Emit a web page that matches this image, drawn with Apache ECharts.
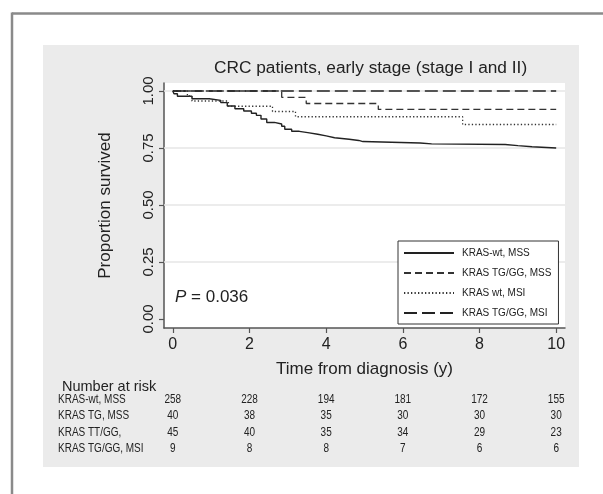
<!DOCTYPE html>
<html>
<head>
<meta charset="utf-8">
<script src="https://cdn.jsdelivr.net/npm/echarts@6/dist/echarts.min.js"></script>
<style>
html,body{margin:0;padding:0;background:#fff;}
#c{width:603px;height:494px;}
</style>
</head>
<body>
<div id="c"></div>
<script>
// ---- data ----
const seriesNames = ['KRAS-wt, MSS', 'KRAS TG/GG, MSS', 'KRAS wt, MSI', 'KRAS TG/GG, MSI'];

const wtMssTimes = [0, 0.03, 0.12, 0.5, 0.95, 1.25, 1.42, 1.62, 1.85, 2.05, 2.18, 2.3, 2.45, 2.65, 2.84, 2.92, 3.1, 3.3, 3.52, 3.78, 4.0, 4.22, 4.6, 4.85, 4.96, 6.45, 6.75, 8.67, 9.0, 9.37, 10];
const wtMssSurv  = [1.0, 0.988, 0.977, 0.966, 0.959, 0.949, 0.934, 0.922, 0.912, 0.902, 0.893, 0.877, 0.862, 0.855, 0.845, 0.832, 0.823, 0.817, 0.810, 0.803, 0.795, 0.788, 0.783, 0.778, 0.772, 0.768, 0.765, 0.760, 0.755, 0.750, 0.750];

const tgMssTimes = [0, 2.84, 3.48, 5.36, 10];
const tgMssSurv  = [1.0, 0.972, 0.945, 0.919, 0.919];

const wtMsiTimes = [0, 0.38, 0.5, 1.45, 2.6, 3.2, 7.56, 10];
const wtMsiSurv  = [1.0, 0.978, 0.956, 0.933, 0.910, 0.887, 0.853, 0.853];

const tgMsiTimes = [0, 10];
const tgMsiSurv  = [1.0, 1.0];

const xTicks = [0, 2, 4, 6, 8, 10];
const yTicks = [0, 0.25, 0.5, 0.75, 1.0];
const gridValues = [0.25, 0.5, 0.75, 1.0];

const riskRows = ['KRAS-wt, MSS', 'KRAS TG, MSS', 'KRAS TT/GG,', 'KRAS TG/GG, MSI'];
const riskTimes = [0, 2, 4, 6, 8, 10];
const riskWtMss = [258, 228, 194, 181, 172, 155];
const riskTgMss = [40, 38, 35, 30, 30, 30];
const riskTtGg  = [45, 40, 35, 34, 29, 23];
const riskTgMsi = [9, 8, 8, 7, 6, 6];

const titleText = 'CRC patients, early stage (stage I and II)';
const pText = '0.036';

// ---- build ----
function pairs(ts, vs){ return ts.map((t,i)=>[t, vs[i]]); }
const riskVals = [riskWtMss, riskTgMss, riskTtGg, riskTgMsi];

const F = '"Liberation Sans", Arial, Helvetica, sans-serif';

const chart = echarts.init(document.getElementById('c'), null, {renderer: 'canvas'});

const curve = (name, ts, vs, type, color, width) => ({
  name, type: 'line', step: 'end', xAxisIndex: 0, yAxisIndex: 0,
  data: pairs(ts, vs), symbol: 'none', showSymbol: false, z: 6,
  lineStyle: {color, width, type}, itemStyle: {color}, animation: false
});

const baseGraphic = [
  {type: 'rect', shape: {x: 43, y: 45, width: 536, height: 422}, style: {fill: '#ebebeb'}, z: -10, silent: true},
  {type: 'line', shape: {x1: 12, y1: 13.5, x2: 603, y2: 13.5}, style: {stroke: '#8a8a8a', lineWidth: 2.5}, z: -10},
  {type: 'line', shape: {x1: 12, y1: 12.5, x2: 12, y2: 494}, style: {stroke: '#8a8a8a', lineWidth: 2.5}, z: -10},
  {type: 'text', left: 214, top: 60, style: {text: titleText, font: '17.3px ' + F, fill: '#222'}},
  {type: 'text', left: 175, top: 289, style: {text: '{p|P} = ' + pText, font: '17px ' + F, fill: '#222',
    rich: {p: {fontStyle: 'italic', fontSize: 17, fontFamily: F, fill: '#222'}}}},
  {type: 'text', left: 62, top: 379, style: {text: 'Number at risk', font: '14.5px ' + F, fill: '#222'}}
];

chart.setOption({
  animation: false,
  backgroundColor: '#fff',
  graphic: baseGraphic,
  grid: [
    {left: 164, right: 38, top: 83, bottom: 166, show: true, backgroundColor: '#fff', borderWidth: 0},
    {left: 164, right: 38, top: 391, height: 65, show: false}
  ],
  legend: {
    data: seriesNames, orient: 'vertical', left: 398, top: 241,
    padding: [7, 7, 6, 5], itemGap: 10, itemWidth: 50, itemHeight: 11,
    borderColor: '#333', borderWidth: 1, backgroundColor: '#fff',
    itemStyle: {opacity: 0},
    textStyle: {fontSize: 10, fontFamily: F, color: '#222', padding: [0, 0, 0, 3]},
    selectedMode: false
  },
  xAxis: [
    {type: 'value', gridIndex: 0, min: -0.23, max: 10.23,
     name: 'Time from diagnosis (y)', nameLocation: 'middle', nameGap: 33,
     nameTextStyle: {fontSize: 17, fontFamily: F, color: '#222'},
     axisLine: {show: true, onZero: false, lineStyle: {color: '#555', width: 1.5}},
     axisTick: {show: true, customValues: xTicks, length: 5, lineStyle: {color: '#555', width: 1.2}},
     axisLabel: {customValues: xTicks, fontSize: 16, fontFamily: F, color: '#222', margin: 9},
     splitLine: {show: false}},
    {type: 'value', gridIndex: 1, min: -0.23, max: 10.23, show: false}
  ],
  yAxis: [
    {type: 'value', gridIndex: 0, min: -0.04, max: 1.035,
     name: 'Proportion survived', nameLocation: 'middle', nameGap: 50,
     nameTextStyle: {fontSize: 17, fontFamily: F, color: '#222'},
     axisLine: {show: true, onZero: false, lineStyle: {color: '#555', width: 1.5}},
     axisTick: {show: true, customValues: yTicks, length: 5, lineStyle: {color: '#555', width: 1.2}},
     axisLabel: {customValues: yTicks, rotate: 90, fontSize: 15, fontFamily: F, color: '#222', margin: 8,
       formatter: v => v.toFixed(2)},
     splitLine: {show: false}},
    {type: 'category', gridIndex: 1, data: riskRows, inverse: true, show: false}
  ],
  series: [
    {name: 'grid', type: 'line', xAxisIndex: 0, yAxisIndex: 0, data: [], z: 1, silent: true,
     markLine: {silent: true, z: 1, symbol: 'none', label: {show: false}, animation: false,
       lineStyle: {color: '#e6e6e6', width: 1.5, type: 'solid'},
       data: gridValues.map(v => ({yAxis: v}))}},
    curve(seriesNames[0], wtMssTimes, wtMssSurv, 'solid', '#222', 1.4),
    curve(seriesNames[1], tgMssTimes, tgMssSurv, [7, 4], '#333', 1.3),
    curve(seriesNames[2], wtMsiTimes, wtMsiSurv, [1.3, 2.2], '#333', 1.3),
    curve(seriesNames[3], tgMsiTimes, tgMsiSurv, [13, 5], '#222', 1.5)
  ]
});

// number-at-risk table, positioned through the axes' scales
const tableGraphic = [];
const SX = 0.8;
riskRows.forEach((row, r) => {
  const y = chart.convertToPixel({yAxisIndex: 1}, row) + 0.5;
  tableGraphic.push({type: 'text', x: 58, y: y, scaleX: SX, silent: true,
    style: {text: row, font: '12.5px ' + F, fill: '#222', align: 'left', verticalAlign: 'middle'}});
  riskVals[r].forEach((v, i) => {
    const x = chart.convertToPixel({xAxisIndex: 1}, riskTimes[i]);
    tableGraphic.push({type: 'text', x: x, y: y, scaleX: SX, silent: true,
      style: {text: String(v), font: '12.5px ' + F, fill: '#222', align: 'center', verticalAlign: 'middle'}});
  });
});
chart.setOption({graphic: baseGraphic.concat(tableGraphic)});
</script>
</body>
</html>
